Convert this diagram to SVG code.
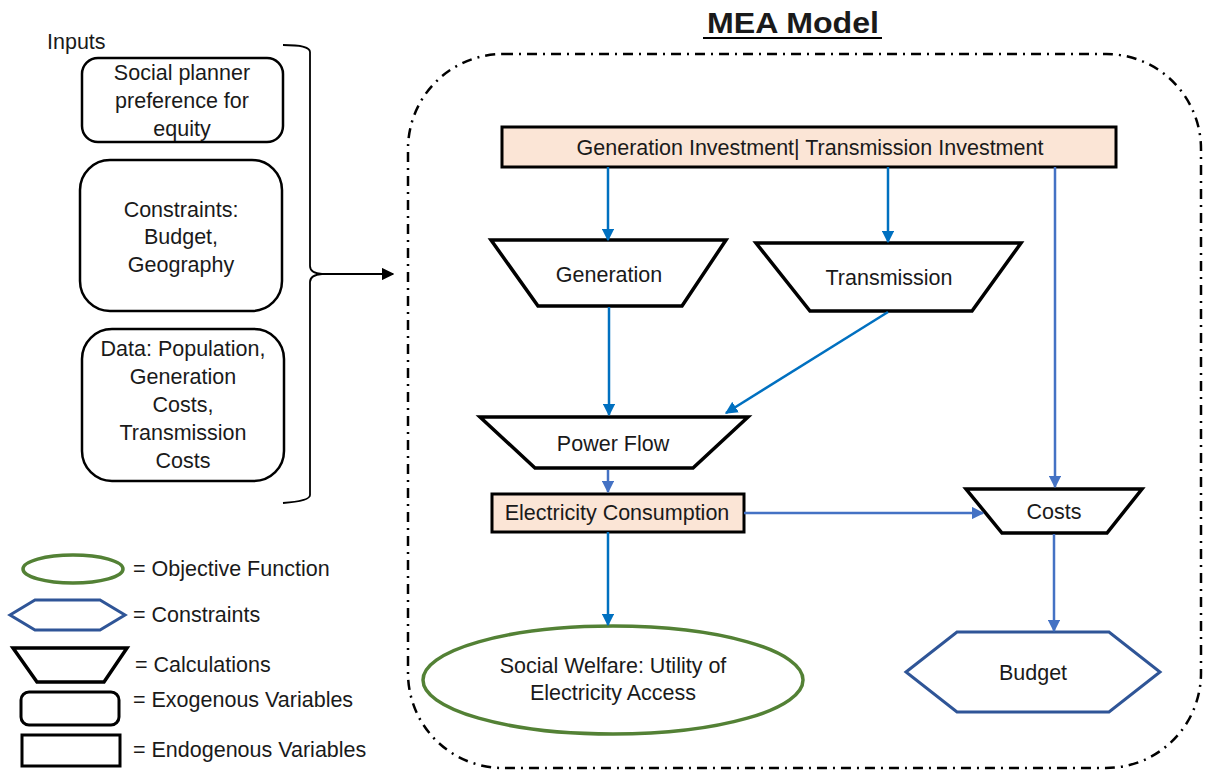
<svg xmlns="http://www.w3.org/2000/svg" width="1207" height="772" viewBox="0 0 1207 772">
  <defs>
    <marker id="ahDark" viewBox="0 0 10 10" refX="9" refY="5" markerWidth="5" markerHeight="5" orient="auto" markerUnits="strokeWidth">
      <path d="M0,0 L10,5 L0,10 z" fill="#0070c0"/>
    </marker>
    <marker id="ahLight" viewBox="0 0 10 10" refX="9" refY="5" markerWidth="5" markerHeight="5" orient="auto" markerUnits="strokeWidth">
      <path d="M0,0 L10,5 L0,10 z" fill="#4472c4"/>
    </marker>
    <marker id="ahBlack" viewBox="0 0 10 10" refX="9" refY="5" markerWidth="7" markerHeight="7" orient="auto" markerUnits="strokeWidth">
      <path d="M0,0 L10,5 L0,10 z" fill="#000"/>
    </marker>
  </defs>
  <style>
    text { font-family: "Liberation Sans", Arial, sans-serif; fill: #1a1a1a; }
    .lbl { font-size: 21.5px; text-anchor: middle; dominant-baseline: central; }
    .leg { font-size: 21.5px; dominant-baseline: central; }
    .calc { fill: #fff; stroke: #000; stroke-width: 3.5; stroke-linejoin: miter; }
    .endo { fill: #fbe5d6; stroke: #000; stroke-width: 3; }
    .exo { fill: #fff; stroke: #000; stroke-width: 2.5; }
    .obj { fill: #fff; stroke: #538135; stroke-width: 3.5; }
    .con { fill: #fff; stroke: #2f5597; stroke-width: 3; stroke-linejoin: miter; }
    .cDark { fill: none; stroke: #0070c0; stroke-width: 2.5; marker-end: url(#ahDark); }
    .cLight { fill: none; stroke: #4472c4; stroke-width: 2.5; marker-end: url(#ahLight); }
  </style>
  <rect width="1207" height="772" fill="#fff"/>

  <!-- model boundary -->
  <g id="model-frame">
    <text x="793" y="22" font-size="30" font-weight="bold" text-anchor="middle" dominant-baseline="central" textLength="172" lengthAdjust="spacingAndGlyphs">MEA Model</text>
    <line x1="703" y1="38" x2="882" y2="38" stroke="#000" stroke-width="2"/>
    <rect x="408" y="54" width="793" height="714" rx="95" ry="95" fill="none" stroke="#000" stroke-width="2.5" stroke-dasharray="10 6 2 6"/>
  </g>

  <!-- inputs column -->
  <g id="inputs-label">
    <text x="47" y="42" class="leg">Inputs</text>
  </g>
  <g id="in-equity">
    <rect x="82" y="58" width="201" height="84" rx="16" class="exo"/>
    <text x="182" y="73" class="lbl">Social planner</text>
    <text x="182" y="101" class="lbl">preference for</text>
    <text x="182" y="129" class="lbl">equity</text>
  </g>
  <g id="in-constraints">
    <rect x="80" y="160" width="202" height="151" rx="30" class="exo"/>
    <text x="181" y="210" class="lbl">Constraints:</text>
    <text x="181" y="237" class="lbl">Budget,</text>
    <text x="181" y="265" class="lbl">Geography</text>
  </g>
  <g id="in-data">
    <rect x="82" y="329" width="202" height="152" rx="30" class="exo"/>
    <text x="183" y="349" class="lbl">Data: Population,</text>
    <text x="183" y="377" class="lbl">Generation</text>
    <text x="183" y="405" class="lbl">Costs,</text>
    <text x="183" y="433" class="lbl">Transmission</text>
    <text x="183" y="461" class="lbl">Costs</text>
  </g>

  <!-- model nodes -->
  <g id="investment">
    <rect x="502" y="127" width="614" height="40" class="endo"/>
    <text x="810" y="148" class="lbl">Generation Investment| Transmission Investment</text>
  </g>
  <g id="generation">
    <polygon points="491,240 726,240 682,306 538,306" class="calc"/>
    <text x="609" y="275" class="lbl">Generation</text>
  </g>
  <g id="transmission">
    <polygon points="756,243 1021,243 972,311 810,311" class="calc"/>
    <text x="889" y="278" class="lbl">Transmission</text>
  </g>
  <g id="power-flow">
    <polygon points="480,417 748,417 693,468 535,468" class="calc"/>
    <text x="613" y="444" class="lbl">Power Flow</text>
  </g>
  <g id="consumption">
    <rect x="492" y="494" width="252" height="38" class="endo"/>
    <text x="617" y="513" class="lbl">Electricity Consumption</text>
  </g>
  <g id="costs">
    <polygon points="966,489 1142,489 1107,533 1002,533" class="calc"/>
    <text x="1054" y="512" class="lbl">Costs</text>
  </g>
  <g id="budget">
    <polygon points="906,672 957,632 1109,632 1160,672 1109,712 957,712" class="con"/>
    <text x="1033" y="673" class="lbl">Budget</text>
  </g>
  <g id="social-welfare">
    <ellipse cx="613" cy="680" rx="190" ry="54" class="obj"/>
    <text x="613" y="666" class="lbl">Social Welfare: Utility of</text>
    <text x="613" y="693" class="lbl">Electricity Access</text>
  </g>

  <!-- connectors -->
  <g id="connectors">
    <path d="M283,45 Q310,45 310,52 L310,266 Q310,273 322,274 Q310,275 310,282 L310,495 Q310,501 283,503" fill="none" stroke="#000" stroke-width="1.8"/>
    <line x1="322" y1="274" x2="393" y2="274" stroke="#000" stroke-width="1.8" marker-end="url(#ahBlack)"/>
    <line x1="608" y1="167" x2="608" y2="240" class="cDark"/>
    <line x1="888" y1="167" x2="888" y2="242" class="cDark"/>
    <line x1="1055" y1="167" x2="1055" y2="487" class="cLight"/>
    <line x1="609" y1="307" x2="609" y2="415" class="cDark"/>
    <line x1="888" y1="312" x2="726" y2="413" class="cDark"/>
    <line x1="608" y1="470" x2="608" y2="492" class="cLight"/>
    <line x1="744" y1="513" x2="983" y2="513" class="cLight"/>
    <line x1="1054" y1="534" x2="1054" y2="631" class="cLight"/>
    <line x1="608" y1="532" x2="608" y2="625" class="cDark"/>
  </g>

  <!-- legend -->
  <g id="legend">
    <ellipse cx="73" cy="569" rx="50" ry="14" class="obj" stroke-width="3"/>
    <text x="133" y="569" class="leg">= Objective Function</text>
    <polygon points="10,615 35,600 100,600 125,615 100,630 35,630" class="con"/>
    <text x="133" y="615" class="leg">= Constraints</text>
    <polygon points="13,648 127,648 104,682 37,682" class="calc"/>
    <text x="135" y="665" class="leg">= Calculations</text>
    <rect x="21" y="692" width="98" height="33" rx="8" fill="#fff" stroke="#000" stroke-width="3"/>
    <text x="133" y="700" class="leg">= Exogenous Variables</text>
    <rect x="22" y="735" width="98" height="31" fill="#fff" stroke="#000" stroke-width="3"/>
    <text x="133" y="750" class="leg">= Endogenous Variables</text>
  </g>
</svg>
